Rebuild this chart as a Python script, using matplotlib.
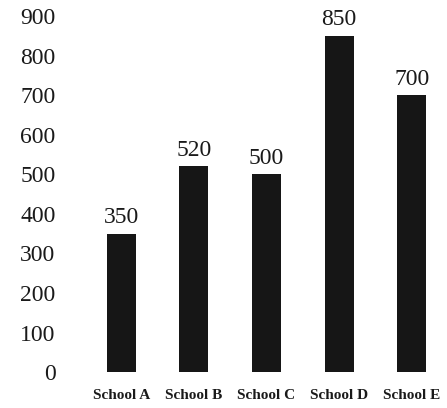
import matplotlib.pyplot as plt

schools = ["School A", "School B", "School C", "School D", "School E"]
students = [350, 520, 500, 850, 700]
yticks = [0, 100, 200, 300, 400, 500, 600, 700, 800, 900]

plt.rcParams['font.family'] = ['Liberation Serif', 'DejaVu Serif']

fig = plt.figure(figsize=(4.47, 4.08), dpi=100)
ax = fig.add_axes([0.174, 0.088, 0.82, 0.8725])

x = range(len(schools))
bars = ax.bar(x, students, width=0.4, color="#161616")

# value labels over each bar
for b, v in zip(bars, students):
    ax.annotate(str(v), (b.get_x() + b.get_width() / 2, v),
                xytext=(0, 4), textcoords="offset points",
                ha="center", va="bottom", fontsize=17, color="#1a1a1a")

ax.set_xlim(-0.6, 4.45)
ax.set_ylim(0, 900)
ax.set_yticks(yticks)
ax.set_yticklabels([str(t) for t in yticks], fontsize=17, color="#1a1a1a")
ax.set_xticks(list(x))
ax.set_xticklabels(schools, fontsize=11, fontweight="bold", color="#1a1a1a")
ax.tick_params(axis="y", length=0, pad=16)
ax.tick_params(axis="x", length=0, pad=12)
for s in ax.spines.values():
    s.set_visible(False)

fig.savefig("out.png", dpi=100)
